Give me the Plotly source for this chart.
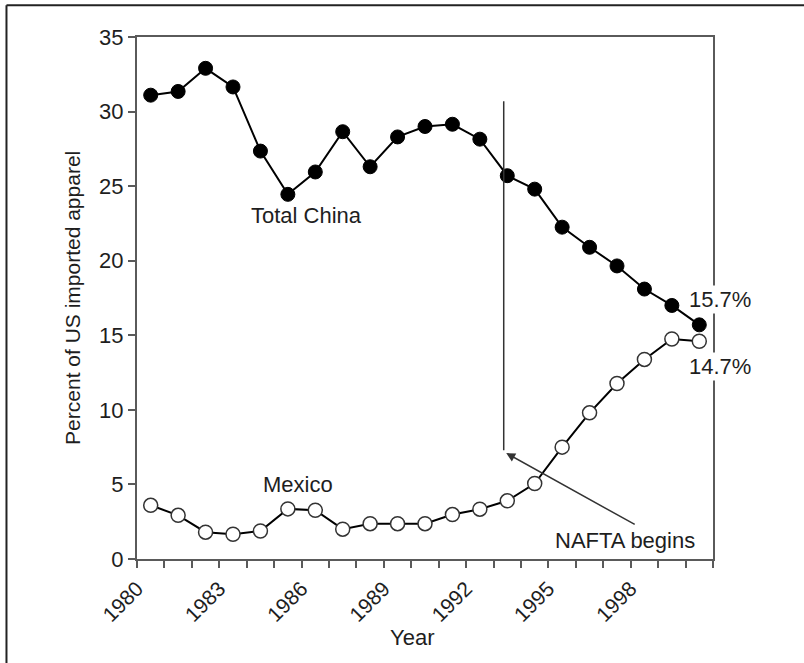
import plotly.graph_objects as go

years = [1980.5 + i for i in range(21)]
china = [31.1, 31.35, 32.9, 31.65, 27.35, 24.45, 25.95, 28.65, 26.3, 28.3, 29.0,
         29.15, 28.15, 25.7, 24.8, 22.25, 20.9, 19.65, 18.1, 17.0, 15.7]
mexico = [3.6, 2.93, 1.8, 1.66, 1.88, 3.36, 3.27, 2.0, 2.37, 2.37, 2.37,
          2.98, 3.34, 3.9, 5.06, 7.5, 9.8, 11.77, 13.38, 14.75, 14.6]
tick_years = list(range(1980, 2002))
tick_labels = [str(y) if (y - 1980) % 3 == 0 and y < 2000 else "" for y in tick_years]
y_ticks = [0, 5, 10, 15, 20, 25, 30, 35]

FONT = "Liberation Sans, Arial, sans-serif"
TXT = "#1e1e1e"
AX = "#5a5a5a"

fig = go.Figure()
fig.add_trace(go.Scatter(
    x=years, y=china, mode="lines+markers", name="Total China",
    line=dict(color="black", width=2),
    marker=dict(size=14, color="black", line=dict(color="black", width=1)),
    cliponaxis=False))
fig.add_trace(go.Scatter(
    x=years, y=mexico, mode="lines+markers", name="Mexico",
    line=dict(color="black", width=2),
    marker=dict(size=14, color="white", line=dict(color="#333333", width=1.5)),
    cliponaxis=False))

# NAFTA vertical line
fig.add_shape(type="line", xref="x", yref="y", x0=1993.37, x1=1993.37, y0=30.7, y1=7.3,
              line=dict(color="#333333", width=1.5))

# outer frame (top and left)
fig.add_shape(type="line", xref="paper", yref="paper", x0=-0.2266, x1=1.2, y0=1.061, y1=1.061,
              line=dict(color="#222222", width=2))
fig.add_shape(type="line", xref="paper", yref="paper", x0=-0.2266, x1=-0.2266, y0=1.061, y1=-0.3,
              line=dict(color="#222222", width=2))

ann_font = dict(family=FONT, size=22, color=TXT)
annotations = [
    dict(x=1986.19, y=23.0, xref="x", yref="y", text="Total China", showarrow=False, font=ann_font),
    dict(x=1985.87, y=5.0, xref="x", yref="y", text="Mexico", showarrow=False, font=ann_font),
    dict(x=1.012, y=0.497, xref="paper", yref="paper", xanchor="center", yanchor="middle",
         text="15.7%", showarrow=False, font=ann_font, bgcolor="white"),
    dict(x=1.012, y=0.368, xref="paper", yref="paper", xanchor="center", yanchor="middle",
         text="14.7%", showarrow=False, font=ann_font, bgcolor="white"),
    dict(x=1997.78, y=1.25, xref="x", yref="y", text="NAFTA begins", showarrow=False, font=ann_font),
    dict(x=1993.46, y=7.1, xref="x", yref="y", ax=1998.2, ay=2.26, axref="x", ayref="y",
         text="", showarrow=True, arrowhead=2, arrowsize=1.2, arrowwidth=1.5, arrowcolor="#333333"),
    dict(x=-0.113, y=0.5, xref="paper", yref="paper", xanchor="center", yanchor="middle",
         text="Percent of US imported apparel", textangle=-90, showarrow=False,
         font=dict(family=FONT, size=21, color=TXT)),
    dict(x=(412 - 137) / 576, y=(558.7 - 637) / 521.4, xref="paper", yref="paper",
         xanchor="center", yanchor="middle", text="Year", showarrow=False, font=ann_font),
]

fig.update_layout(
    width=804, height=663,
    margin=dict(l=137, r=91, t=37, b=104),
    paper_bgcolor="white", plot_bgcolor="white",
    showlegend=False,
    font=dict(family=FONT, size=21, color=TXT),
    annotations=annotations,
)
fig.update_xaxes(
    range=[1980, 2001], tickmode="array", tickvals=tick_years, ticktext=tick_labels,
    tickangle=-45, ticks="outside", ticklen=7, tickwidth=2, tickcolor=AX,
    showline=True, linecolor=AX, linewidth=2, mirror=True, showgrid=False, zeroline=False,
    tickfont=dict(family=FONT, size=21, color=TXT))
fig.update_yaxes(
    range=[0, 35], tickmode="array", tickvals=y_ticks,
    ticks="outside", ticklen=7, tickwidth=2, tickcolor=AX,
    showline=True, linecolor=AX, linewidth=2, mirror=True, showgrid=False, zeroline=False,
    tickfont=dict(family=FONT, size=22, color=TXT))

fig.write_html("out.html", config={"displayModeBar": False},
               post_script="document.body.style.margin='0';")
